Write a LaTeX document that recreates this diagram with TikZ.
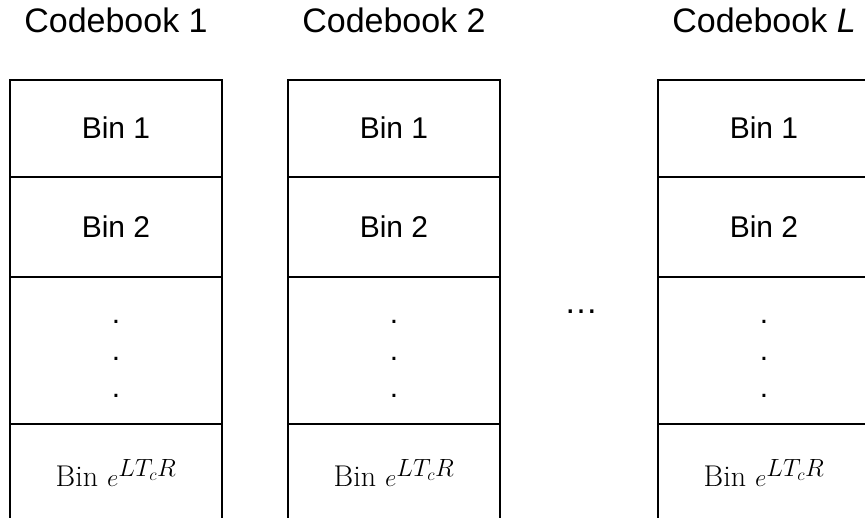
\documentclass[tikz,border=0pt]{standalone}
\usepackage{fontspec}
\setsansfont{Liberation Sans}
\DeclareMathSizes{30}{30}{24}{18}

\begin{document}
\begin{tikzpicture}
  [
    x=1pt, y=-1pt,
    cellline/.style={black, line width=1.2pt},
    cbtitle/.style={font=\sffamily\fontsize{34}{40}\selectfont, anchor=base},
    bintext/.style={font=\sffamily\fontsize{30}{36}\selectfont, anchor=base},
    lastbin/.style={font=\fontsize{30}{36}\selectfont, anchor=base},
    vdot/.style={font=\sffamily\fontsize{30}{36}\selectfont, inner sep=0pt},
  ]

    \useasboundingbox (0,0) rectangle (865,518);

    % codebooks
    \foreach \k/\x/\lab in {1/10/1, 2/288/2, 3/658/{\textit{L}}} {
      \draw [cellline] (\x,545) -- (\x,80) -- (\x+212,80) -- (\x+212,545);
      \foreach \y in {177,277,424} {
        \draw [cellline] (\x,\y) -- (\x+212,\y);
      }
      \node [cbtitle] (cb\k) at (\x+106,33) {Codebook \lab};
      \node [bintext] (bina\k) at (\x+106,139) {Bin 1};
      \node [bintext] (binb\k) at (\x+106,238) {Bin 2};
      \node [lastbin] (binz\k) at (\x+106,486) {Bin $e^{LT_cR}$};
      % vertical dots
      \node [vdot] (dota\k) at (\x+106,322) {.};
      \node [vdot] (dotb\k) at (\x+106,359) {.};
      \node [vdot] (dotc\k) at (\x+106,396) {.};
    }

    % between codebook 2 and L
    \node [vdot, font=\sffamily\fontsize{34}{40}\selectfont] (gap) at (581,312) {…};
  \end{tikzpicture}
\end{document}
